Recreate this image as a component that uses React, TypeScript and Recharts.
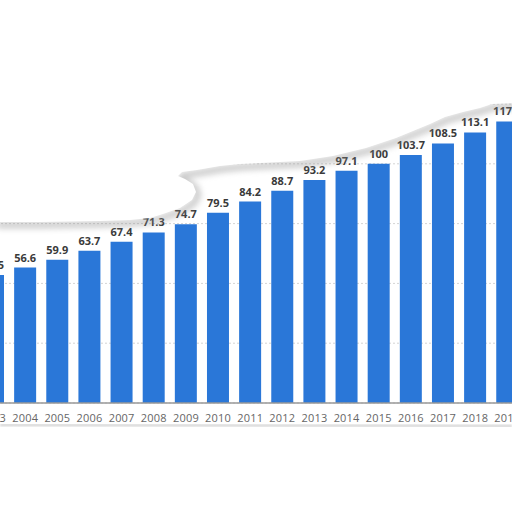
import React from "react";
import { BarChart, Bar, XAxis, YAxis, CartesianGrid, LabelList } from "recharts";

const years = ["2003", "2004", "2005", "2006", "2007", "2008", "2009", "2010", "2011", "2012", "2013", "2014", "2015", "2016", "2017", "2018", "2019"];
const values = [53.5, 56.6, 59.9, 63.7, 67.4, 71.3, 74.7, 79.5, 84.2, 88.7, 93.2, 97.1, 100, 103.7, 108.5, 113.1, 117.7];
const yTicks = [0, 25, 50, 75, 100, 125];

const data = years.map((y, i) => ({ year: y, value: values[i] }));

const FONT = "'Open Sans', 'DejaVu Sans', sans-serif";

// decorative torn-paper edge (not data)
const edge: [number, number][] = [
  [-5, 222], [40, 222], [100, 221], [130, 220], [150, 218], [163, 214], [180, 208], [192, 200],
  [196, 192], [193, 184], [185, 179], [178, 176], [182, 172], [197, 170], [220, 166], [240, 164],
  [260, 163], [300, 161], [333, 156], [366, 148], [396, 138], [430, 124], [445, 117], [463, 112],
  [480, 108], [492, 104], [517, 103],
];

const edgeLine = edge.map((p, i) => `${i === 0 ? "M" : "L"}${p[0]},${p[1]}`).join(" ");
const whiteArea = `${edgeLine} L517,-5 L-5,-5 Z`;

export default function App() {
  return (
    <div style={{ position: "absolute", left: 0, top: 0, width: 512, height: 512, overflow: "hidden", background: "#fff" }}>
      <div style={{ position: "absolute", left: -23.2, top: 0 }}>
        <BarChart width={546.4} height={512} data={data} margin={{ top: 104, right: 0, bottom: 79, left: 0 }}>
          <CartesianGrid vertical={false} stroke="#d4d4d4" strokeDasharray="2 2" />
          <YAxis hide domain={[0, 125]} ticks={yTicks} />
          <XAxis
            dataKey="year"
            height={30}
            tickLine={false}
            tickSize={6}
            tickMargin={5.5}
            axisLine={{ stroke: "#999", strokeWidth: 1.5 }}
            interval={0}
            tick={{ fill: "#666", fontSize: 11, fontFamily: FONT, letterSpacing: 0.2 }}
          />
          <Bar dataKey="value" fill="#2a77d8" barSize={22} isAnimationActive={false}>
            <LabelList
              dataKey="value"
              position="top"
              offset={6}
              style={{ fill: "#3a3a3a", fontSize: 11, fontWeight: 700, fontFamily: FONT }}
            />
          </Bar>
        </BarChart>
      </div>
      <svg width={512} height={512} style={{ position: "absolute", left: 0, top: 0, pointerEvents: "none" }}>
        <defs>
          <filter id="blur" x="-10%" y="-50%" width="120%" height="200%">
            <feGaussianBlur stdDeviation="3" />
          </filter>
          <filter id="blur2" x="-10%" y="-50%" width="120%" height="200%">
            <feGaussianBlur stdDeviation="1.2" />
          </filter>
        </defs>
        <path d={edgeLine} transform="translate(2,3)" fill="none" stroke="#8c8c8c" strokeWidth={6} opacity={0.5} filter="url(#blur)" />
        <path d={whiteArea} fill="#fff" />
        <path d="M0,425 L512,426" stroke="#b5b5b5" strokeWidth={2} opacity={0.7} filter="url(#blur2)" />
        <rect x={0} y={427} width={512} height={90} fill="#fff" />
      </svg>
    </div>
  );
}
